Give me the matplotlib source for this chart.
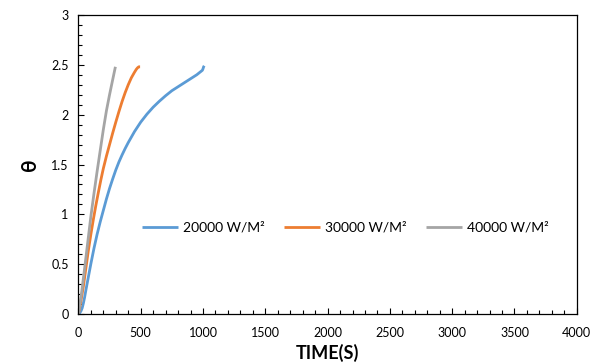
import matplotlib.pyplot as plt
from matplotlib.ticker import MultipleLocator

# heating curves: time (s) and dimensionless temperature
t_20k = [0, 10, 20, 30, 40, 50, 60, 75, 100, 125, 150, 175, 200, 225, 250, 275, 300,
         325, 350, 375, 400, 450, 500, 550, 600, 650, 700, 750, 800, 850, 900, 950,
         980, 995, 1000, 1005, 1010]
th_20k = [0, 0.01, 0.03, 0.06, 0.11, 0.17, 0.24, 0.34, 0.505, 0.66, 0.80, 0.925, 1.04,
          1.155, 1.26, 1.355, 1.445, 1.525, 1.595, 1.66, 1.72, 1.83, 1.925, 2.005, 2.075,
          2.135, 2.19, 2.24, 2.28, 2.32, 2.36, 2.40, 2.43, 2.445, 2.46, 2.48, 2.49]

t_30k = [0, 20, 40, 60, 80, 100, 120, 140, 160, 180, 200, 225, 250, 275, 300, 325,
         350, 375, 400, 425, 450, 465, 475, 485, 495]
th_30k = [0, 0.13, 0.28, 0.46, 0.64, 0.80, 0.95, 1.09, 1.22, 1.345, 1.46, 1.585, 1.70,
          1.815, 1.925, 2.03, 2.13, 2.22, 2.30, 2.37, 2.425, 2.455, 2.47, 2.48, 2.48]

t_40k = [0, 25, 50, 75, 100, 125, 150, 175, 200, 225, 250, 275, 297]
th_40k = [0, 0.21, 0.46, 0.72, 0.98, 1.21, 1.43, 1.64, 1.85, 2.04, 2.20, 2.35, 2.48]

labels = ['20000 W/M²', '30000 W/M²', '40000 W/M²']
colors = ['#5B9BD5', '#ED7D31', '#A5A5A5']

plt.rcParams['font.family'] = ['Lato', 'DejaVu Sans']

fig = plt.figure(figsize=(5.94, 3.64), dpi=100)
ax = fig.add_axes([0.132, 0.137, 0.839, 0.822])

for t, th, lab, c in zip([t_20k, t_30k, t_40k], [th_20k, th_30k, th_40k], labels, colors):
    ax.plot(t, th, color=c, lw=2, label=lab, solid_capstyle='butt', solid_joinstyle='round')

ax.set_xlim(0, 4000)
ax.set_ylim(0, 3)
ax.xaxis.set_major_locator(MultipleLocator(500))
ax.xaxis.set_minor_locator(MultipleLocator(100))
ax.yaxis.set_minor_locator(MultipleLocator(0.1))
ax.set_yticks([0, 0.5, 1, 1.5, 2, 2.5, 3])
ax.set_yticklabels(['0', '0.5', '1', '1.5', '2', '2.5', '3'])

ax.tick_params(which='both', direction='in', top=False, right=False,
               labelsize=9, color='black', width=0.8)
ax.tick_params(which='major', length=4)
ax.tick_params(which='minor', length=3)
ax.tick_params(axis='x', which='major', pad=9)
ax.tick_params(axis='y', which='major', pad=7)
for s in ax.spines.values():
    s.set_color('black')
    s.set_linewidth(0.9)

ax.set_xlabel('TIME(S)', fontsize=13, fontweight='bold', labelpad=4)
ax.set_ylabel('θ', fontsize=15, fontweight='bold', labelpad=8)

ax.legend(loc='center', bbox_to_anchor=(0.535, 0.288), ncol=3, frameon=False,
          fontsize=10, handlelength=2.6, handletextpad=0.35, columnspacing=1.4)

fig.savefig('out.png', dpi=100)
